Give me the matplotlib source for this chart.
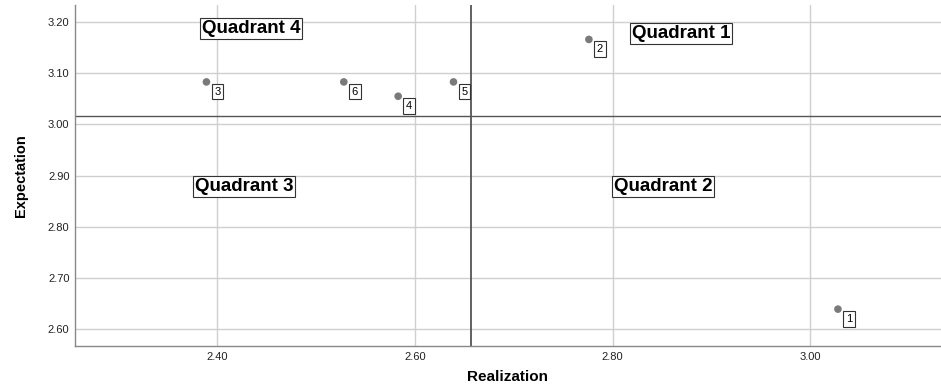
import matplotlib
matplotlib.use('Agg')
import matplotlib.pyplot as plt

plt.rcParams['font.family'] = ['Liberation Sans', 'DejaVu Sans']

# Datos
ids = ['1', '2', '3', '4', '5', '6']
realization = [3.028, 2.776, 2.389, 2.583, 2.639, 2.528]
expectation = [2.639, 3.166, 3.083, 3.055, 3.083, 3.083]
mean_x = 2.657
mean_y = 3.017

quad_names = ['Quadrant 1', 'Quadrant 2', 'Quadrant 3', 'Quadrant 4']
quad_x = [2.869, 2.851, 2.427, 2.434]
quad_y = [3.178, 2.878, 2.878, 3.187]

x_ticks = [2.40, 2.60, 2.80, 3.00]
y_ticks = [2.60, 2.70, 2.80, 2.90, 3.00, 3.10, 3.20]

fig = plt.figure(figsize=(9.41, 3.87), dpi=100)
ax = fig.add_axes([0.0797, 0.106, 0.92, 0.880])

ax.set_xlim(2.256, 3.132)
ax.set_ylim(2.567, 3.2325)
ax.set_xticks(x_ticks)
ax.set_yticks(y_ticks)
ax.set_xticklabels(['%.2f' % v for v in x_ticks])
ax.set_yticklabels(['%.2f' % v for v in y_ticks])
ax.tick_params(length=0, labelsize=8, colors='#222222', pad=4)
ax.grid(True, color='#cfcfcf', linewidth=1.0)
ax.set_axisbelow(True)

for s in ['top', 'right']:
    ax.spines[s].set_visible(False)
for s in ['left', 'bottom']:
    ax.spines[s].set_color('#888888')
    ax.spines[s].set_linewidth(1.0)

# Líneas de referencia
ax.axhline(mean_y, color='#555555', linewidth=1.0)
ax.axvline(mean_x, color='#555555', linewidth=1.3)

# Puntos
ax.scatter(realization, expectation, s=30, color='#7a7a7a', zorder=3,
           edgecolors='none')
for i, xv, yv in zip(ids, realization, expectation):
    ax.annotate(i, (xv, yv), xytext=(8, -7), textcoords='offset points',
                ha='center', va='center', fontsize=8,
                bbox=dict(boxstyle='square,pad=0.25', fc='white', ec='#333333', lw=0.8),
                zorder=4)

# Etiquetas de cuadrantes
for name, qx, qy in zip(quad_names, quad_x, quad_y):
    ax.text(qx, qy, name, fontsize=13.5, fontweight='bold', ha='center', va='center',
            bbox=dict(boxstyle='square,pad=0.1', fc='white', ec='#333333', lw=0.8),
            zorder=4)

ax.set_xlabel('Realization', fontsize=11, fontweight='bold', labelpad=6)
ax.set_ylabel('Expectation', fontsize=10.5, fontweight='bold', labelpad=14)

fig.savefig('out.png', dpi=100)
